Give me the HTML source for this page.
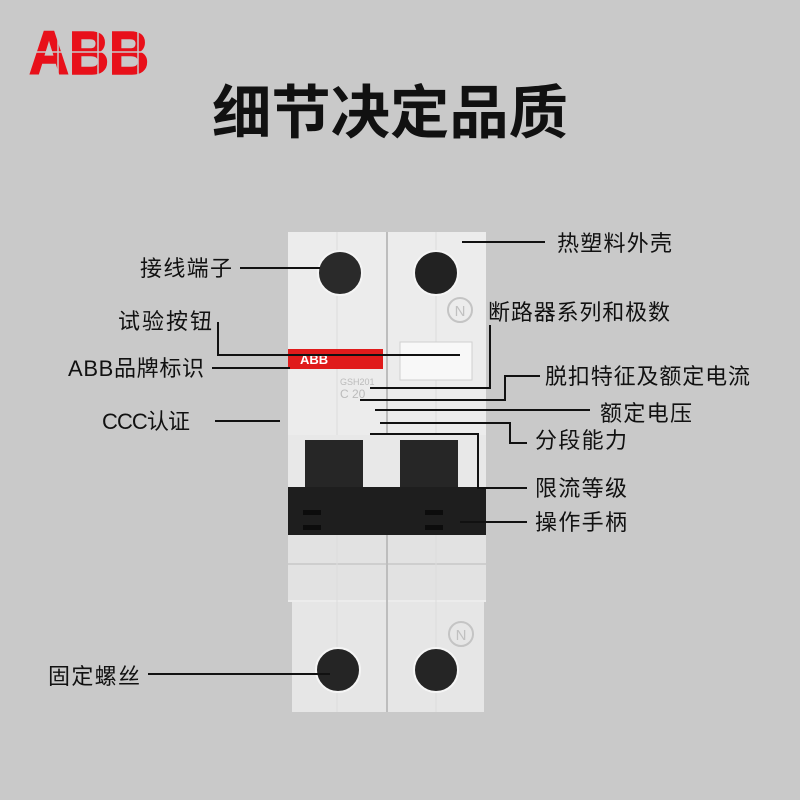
<!DOCTYPE html>
<html><head><meta charset="utf-8"><style>
body{margin:0;width:800px;height:800px;background:#c9c9c9;overflow:hidden;font-family:"Liberation Sans","Noto Sans CJK SC",sans-serif;}
</style></head><body>
<svg width="800" height="800" viewBox="0 0 800 800" xmlns="http://www.w3.org/2000/svg" style="position:absolute;left:0;top:0">
<rect width="800" height="800" fill="#c9c9c9"/>
<!-- ABB logo -->
<text x="89" y="74" text-anchor="middle" font-family="Liberation Sans, sans-serif" font-weight="bold" font-size="61" fill="#e8101a" stroke="#e8101a" stroke-width="1.5" textLength="120" lengthAdjust="spacingAndGlyphs">ABB</text>
<line x1="27" y1="52" x2="152" y2="52" stroke="#c9c9c9" stroke-width="1.5"/>
<line x1="58" y1="28" x2="58" y2="76" stroke="#c9c9c9" stroke-width="1.5"/>
<line x1="98" y1="28" x2="98" y2="76" stroke="#c9c9c9" stroke-width="1.5"/>
<line x1="138" y1="28" x2="138" y2="76" stroke="#c9c9c9" stroke-width="1.5"/>
<!-- Title -->
<text x="390" y="133" text-anchor="middle" font-family="Noto Sans CJK SC, sans-serif" font-weight="bold" font-size="58" fill="#111" textLength="356" lengthAdjust="spacingAndGlyphs">细节决定品质</text>

<!-- breaker body -->
<rect x="292" y="600" width="192" height="112" fill="#e6e6e6"/>
<rect x="288" y="232" width="198" height="370" fill="#ececec"/>
<rect x="288" y="535" width="198" height="65" fill="#e2e2e2"/>
<line x1="288" y1="564" x2="486" y2="564" stroke="#c8c8c8" stroke-width="1.5"/>
<line x1="387" y1="232" x2="387" y2="712" stroke="#bdbdbd" stroke-width="2"/>
<line x1="337" y1="232" x2="337" y2="712" stroke="#dcdcdc" stroke-width="1"/>
<line x1="436" y1="232" x2="436" y2="712" stroke="#dcdcdc" stroke-width="1"/>
<!-- top screws -->
<circle cx="340" cy="273" r="22" fill="#2a2a2a" stroke="#f5f5f5" stroke-width="2"/>
<circle cx="436" cy="273" r="22" fill="#222" stroke="#f5f5f5" stroke-width="2"/>
<circle cx="460" cy="310" r="12" fill="none" stroke="#c4c4c4" stroke-width="2"/>
<text x="460" y="316" text-anchor="middle" font-size="15" fill="#c0c0c0">N</text>
<!-- red ABB band -->
<rect x="288" y="349" width="95" height="20" fill="#e01b1b"/>
<text x="300" y="364" font-weight="bold" font-size="13" fill="#fff">ABB</text>
<!-- test button -->
<rect x="400" y="342" width="72" height="38" fill="#f8f8f8" stroke="#d0d0d0"/>
<text x="340" y="385" font-size="9" fill="#bbb">GSH201</text>
<text x="340" y="398" font-size="12" fill="#bbb">C 20</text>
<!-- handle windows -->
<rect x="288" y="435" width="198" height="55" fill="#e8e8e8"/>
<rect x="305" y="440" width="58" height="52" fill="#262626"/>
<rect x="400" y="440" width="58" height="52" fill="#262626"/>
<rect x="288" y="487" width="198" height="48" fill="#1e1e1e"/>
<rect x="303" y="510" width="18" height="5" fill="#0c0c0c"/>
<rect x="303" y="525" width="18" height="5" fill="#0c0c0c"/>
<rect x="425" y="510" width="18" height="5" fill="#0c0c0c"/>
<rect x="425" y="525" width="18" height="5" fill="#0c0c0c"/>
<!-- bottom screws -->
<circle cx="461" cy="634" r="12" fill="none" stroke="#c4c4c4" stroke-width="2"/>
<text x="461" y="640" text-anchor="middle" font-size="15" fill="#c0c0c0">N</text>
<circle cx="338" cy="670" r="22" fill="#252525" stroke="#f5f5f5" stroke-width="2"/>
<circle cx="436" cy="670" r="22" fill="#252525" stroke="#f5f5f5" stroke-width="2"/>

<!-- leader lines -->
<g stroke="#111" stroke-width="2" fill="none">
<line x1="240" y1="268" x2="320" y2="268"/>
<line x1="462" y1="242" x2="545" y2="242"/>
<polyline points="218,322 218,355 460,355"/>
<polyline points="490,325 490,388 370,388"/>
<line x1="212" y1="368" x2="290" y2="368"/>
<polyline points="540,376 505,376 505,400 360,400"/>
<line x1="215" y1="421" x2="280" y2="421"/>
<line x1="375" y1="410" x2="590" y2="410"/>
<polyline points="380,423 510,423 510,443 527,443"/>
<polyline points="370,434 478,434 478,488 527,488"/>
<line x1="460" y1="522" x2="527" y2="522"/>
<line x1="148" y1="674" x2="330" y2="674"/>
</g>
<!-- labels -->
<g font-family="Liberation Sans, Noto Sans CJK SC, sans-serif" font-size="22" fill="#111" lengthAdjust="spacingAndGlyphs">
<text x="140" y="276" textLength="92">接线端子</text>
<text x="557" y="251" textLength="115">热塑料外壳</text>
<text x="118" y="329" textLength="94">试验按钮</text>
<text x="488" y="320" textLength="182">断路器系列和极数</text>
<text x="68" y="376" textLength="136">ABB品牌标识</text>
<text x="545" y="384" textLength="205">脱扣特征及额定电流</text>
<text x="102" y="429" textLength="88">CCC认证</text>
<text x="600" y="421" textLength="92">额定电压</text>
<text x="535" y="448" textLength="92">分段能力</text>
<text x="535" y="496" textLength="92">限流等级</text>
<text x="535" y="530" textLength="92">操作手柄</text>
<text x="48" y="684" textLength="92">固定螺丝</text>
</g>
</svg>
</body></html>
